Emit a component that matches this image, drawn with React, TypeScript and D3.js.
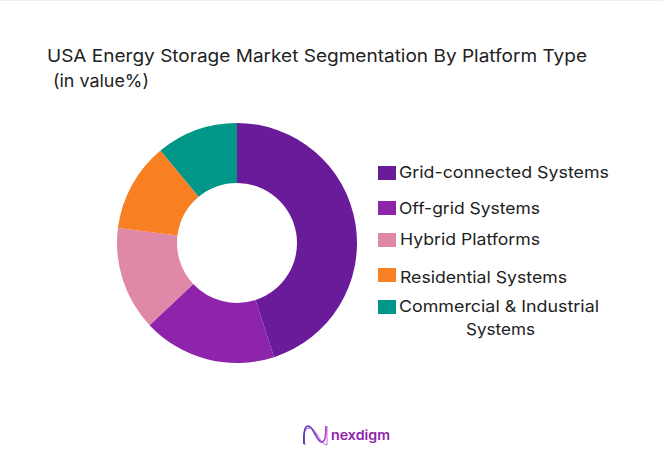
import React from "react";
import * as d3 from "d3";

const categories = ["Grid-connected Systems", "Off-grid Systems", "Hybrid Platforms", "Residential Systems", "Commercial & Industrial Systems"];
const shares = [45, 18, 14, 12, 11];
const colors = ["#6A1B9A", "#8E24AA", "#E088A8", "#F97F23", "#009688"];
const titleLines = ["USA Energy Storage Market Segmentation By Platform Type", "(in value%)"];
const FONT = "Inter, 'Open Sans', sans-serif";

const legendRows = [
  { sx: 378, sy: 166, lines: [{ x: 399, y: 178, w: 210, t: categories[0] }] },
  { sx: 378, sy: 201, lines: [{ x: 399, y: 214, w: 141, t: categories[1] }] },
  { sx: 378, sy: 233, lines: [{ x: 400, y: 245, w: 140, t: categories[2] }] },
  { sx: 378, sy: 268, lines: [{ x: 400, y: 283, w: 167, t: categories[3] }] },
  { sx: 378, sy: 300, lines: [{ x: 399, y: 312, w: 200, t: "Commercial & Industrial" }, { x: 466, y: 335, w: 69, t: "Systems" }] },
];

export default function App() {
  const pie = d3.pie<number>().sort(null).value((d) => d);
  const arc = d3.arc<d3.PieArcDatum<number>>().innerRadius(60).outerRadius(120);
  return (
    <svg width={663} height={475} style={{ position: "absolute", left: 0, top: 0, background: "#fff" }}>
      <defs>
        <linearGradient id="lg" x1="0" x2="1" y1="0" y2="0">
          <stop offset="0" stopColor="#5E35B1" />
          <stop offset="1" stopColor="#B24BD6" />
        </linearGradient>
      </defs>
      <rect x={0} y={0} width={663} height={1} fill="#eeeeee" />
      <text x={47} y={62} fontFamily={FONT} fontSize={17.5} fill="#222" textLength={540} lengthAdjust="spacingAndGlyphs">{titleLines[0]}</text>
      <text x={53} y={87} fontFamily={FONT} fontSize={17.5} fill="#222" textLength={96} lengthAdjust="spacingAndGlyphs">{titleLines[1]}</text>
      <g transform="translate(237,243)">
        {pie(shares).map((d, i) => (
          <path key={categories[i]} d={arc(d) ?? ""} fill={colors[i]} />
        ))}
      </g>
      {legendRows.map((r, i) => (
        <g key={categories[i]}>
          <rect x={r.sx} y={r.sy} width={18} height={14} fill={colors[i]} />
          {r.lines.map((l) => (
            <text key={l.t} x={l.x} y={l.y} fontFamily={FONT} fontSize={16.5} fill="#222" textLength={l.w} lengthAdjust="spacingAndGlyphs">{l.t}</text>
          ))}
        </g>
      ))}
      <g fill="none" stroke="url(#lg)">
        <path d="M304 444 C303 420 310 424 315 434 C320 444 326 448 326 426" strokeWidth={1.8} />
        <path d="M305 445 C302 430 306 428 311 428 C318 432 320 444 327 445 L327 426" strokeWidth={0.8} />
      </g>
      <text x={331} y={440} fontFamily={FONT} fontSize={13.5} fontWeight={600} fill="#8E24AA" textLength={59} lengthAdjust="spacingAndGlyphs">nexdigm</text>
    </svg>
  );
}
